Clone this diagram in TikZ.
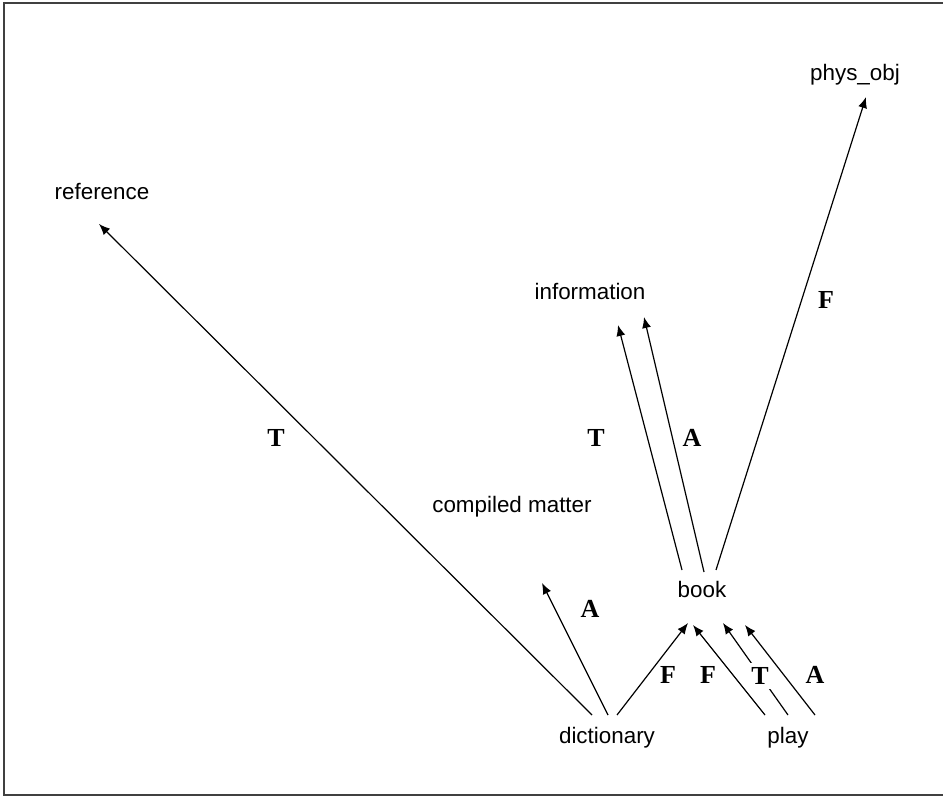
\documentclass[tikz,border=0pt]{standalone}
\usepackage{fontspec}
\setmainfont{Liberation Sans}
\newfontfamily\lblfont{Liberation Serif}
\usetikzlibrary{arrows.meta,calc}

\tikzset{
    word/.style={anchor=base, inner sep=0pt, font=\fontsize{11.2}{13}\selectfont},
    lbl/.style={inner sep=2pt, font=\lblfont\bfseries\fontsize{13}{15}\selectfont},
    arc/.style={-{Latex[length=5.5pt,width=4.5pt]}, line width=0.6pt}
}

\begin{document}
\begin{tikzpicture}[x=0.5pt,y=-0.5pt]
    \useasboundingbox (0,0) rectangle (943,796);
    \draw[line width=1pt, black!75] (4,3) rectangle (960,795);

    % sense nodes
    \node[word] (reference) at (102,200) {reference};
    \node[word] (physobj) at (855,81) {phys\_obj};
    \node[word] (information) at (590,300) {information};
    \node[word] (compiled) at (512,513) {compiled matter};
    \node[word] (book) at (702,597) {book};
    \node[word] (dictionary) at (607,743) {dictionary};
    \node[word] (play) at (788,743) {play};

    % dictionary
    \draw[arc] ($(dictionary.base)+(-15,-28)$) -- ($(reference.base)+(-3,24)$);
    \draw[arc] ($(dictionary.base)+(1,-28)$) -- ($(compiled.base)+(30,70)$);
    \draw[arc] ($(dictionary.base)+(10,-28)$) -- ($(book.base)+(-14,26)$);

    % play
    \draw[arc] ($(play.base)+(-23,-28)$) -- ($(book.base)+(-9,28)$);
    \draw[arc] ($(play.base)+(0,-28)$) -- ($(book.base)+(21,26)$);
    \draw[arc] ($(play.base)+(27,-28)$) -- ($(book.base)+(43,28)$);

    % book
    \draw[arc] ($(book.base)+(-20,-27)$) -- ($(information.base)+(28,25)$);
    \draw[arc] ($(book.base)+(2,-25)$) -- ($(information.base)+(54,17)$);
    \draw[arc] ($(book.base)+(14,-27)$) -- ($(physobj.base)+(11,16)$);

    % labels
    \node[lbl] (t1) at (276,438) {T};
    \node[lbl] (a1) at (590,609) {A};
    \node[lbl] (f1) at (668,675) {F};
    \node[lbl] (f2) at (708,675) {F};
    \node[lbl, fill=white] (t2) at (760,676) {T};
    \node[lbl] (a2) at (815,675) {A};
    \node[lbl] (t3) at (596,438) {T};
    \node[lbl] (a3) at (692,438) {A};
    \node[lbl] (f3) at (826,300) {F};
\end{tikzpicture}
\end{document}
